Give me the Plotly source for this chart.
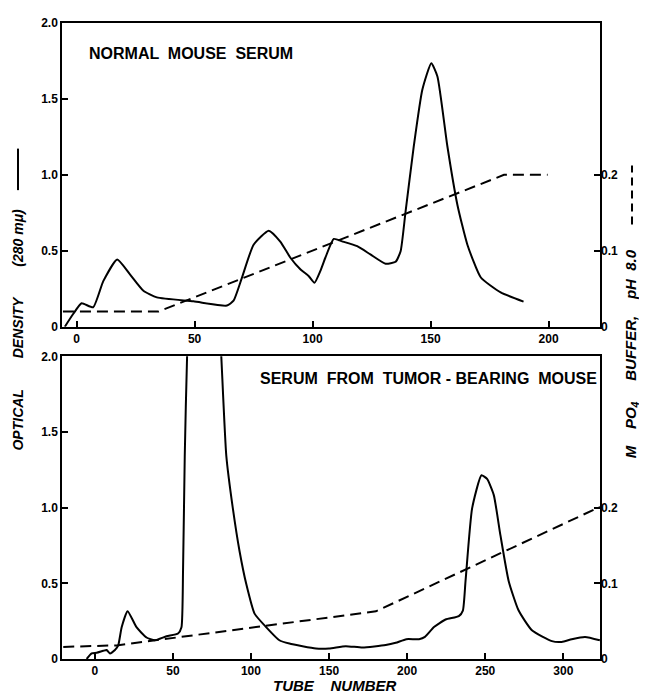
import plotly.graph_objects as go

# ---- Data ----
top_tube = [-5, -1.4, 2.1, 7, 11.3, 17.2, 22.6, 28.3, 34, 49.5, 63.7, 66.5, 70, 75, 81.4, 86.3,
            90.6, 94.8, 98.3, 100.8, 103.3, 105.4, 109, 112.5, 118.9, 124.5, 130.9, 135.2, 137.3,
            139.4, 142.9, 146.5, 150.3, 152.9, 157.1, 161.4, 165.6, 171.3, 179.7, 189.4]
top_od = [0, 0.085, 0.154, 0.128, 0.30, 0.443, 0.345, 0.237, 0.193, 0.167, 0.139, 0.171, 0.32,
          0.54, 0.632, 0.56, 0.454, 0.378, 0.334, 0.289, 0.367, 0.454, 0.578, 0.562, 0.53, 0.476,
          0.415, 0.428, 0.497, 0.758, 1.19, 1.56, 1.735, 1.648, 1.19, 0.80, 0.54, 0.324, 0.226, 0.165]
top_buf_tube = [-5.8, 34.7, 181.1, 199.6]
top_buf = [0.02, 0.02, 0.2, 0.2]

bot_tube = [-5.2, -2, 1.2, 5.4, 7.6, 9.7, 12.9, 15, 17.2, 21, 26.7, 33.1, 38.4, 45.9, 53.3, 55.5,
            56.5, 57.6, 59.1, 62, 70, 78, 81, 84.2, 88.4, 92.7, 97, 102.3, 109.7, 118.2, 124.6,
            141.6, 150, 160.7, 171.4, 186.3, 192.7, 199.5, 207.6, 211.4, 217.2, 224.6, 233.1,
            235.7, 237.4, 241.6, 247.6, 251.2, 255.5, 259.7, 265, 271.4, 279.9, 292.7, 299, 305.4,
            313.9, 323.4]
bot_od = [0, 0.037, 0.041, 0.054, 0.059, 0.037, 0.059, 0.09, 0.21, 0.316, 0.21, 0.142, 0.124,
          0.15, 0.168, 0.21, 0.58, 1.34, 2.0, 2.6, 3.2, 2.6, 2.0, 1.344, 0.995, 0.712, 0.495, 0.3,
          0.211, 0.124, 0.102, 0.07, 0.07, 0.085, 0.076, 0.092, 0.107, 0.131, 0.131, 0.146, 0.211,
          0.261, 0.283, 0.32, 0.516, 0.995, 1.214, 1.19, 1.083, 0.82, 0.516, 0.32, 0.19, 0.118,
          0.113, 0.131, 0.146, 0.124]
bot_buf_tube = [-20.2, 14, 180, 323.4]
bot_buf = [0.016, 0.018, 0.063, 0.201]

od_ticks = [0, 0.5, 1.0, 1.5, 2.0]
od_ticktext = ["0", "0.5", "1.0", "1.5", "2.0"]
buf_ticks = [0, 0.1, 0.2]
buf_ticktext = ["0", "0.1", "0.2"]
top_xticks = [0, 50, 100, 150, 200]
bot_xticks = [0, 50, 100, 150, 200, 250, 300]

FONT = "Liberation Sans"
tickfont = dict(family=FONT, size=12, color="black", weight="bold")
solid = dict(color="black", width=2, shape="spline", smoothing=0.5)
dashed = dict(color="black", width=2, dash="11px,6px")

fig = go.Figure()
fig.add_trace(go.Scatter(x=top_tube, y=top_od, mode="lines", line=solid, xaxis="x", yaxis="y"))
fig.add_trace(go.Scatter(x=top_buf_tube, y=top_buf, mode="lines", line=dashed, xaxis="x", yaxis="y2"))
fig.add_trace(go.Scatter(x=bot_tube, y=bot_od, mode="lines", line=solid, xaxis="x2", yaxis="y3"))
fig.add_trace(go.Scatter(x=bot_buf_tube, y=bot_buf, mode="lines", line=dashed, xaxis="x2", yaxis="y4"))

axcommon = dict(showline=True, linecolor="black", linewidth=1.5, mirror=True, ticks="inside",
                ticklen=6, tickwidth=1.5, tickcolor="black", showgrid=False, zeroline=False,
                tickfont=tickfont)
rightcommon = dict(showline=False, ticks="inside", ticklen=6, tickwidth=1.5, tickcolor="black",
                   showgrid=False, zeroline=False, tickfont=tickfont, side="right")

# page body has an 8px margin: figure spans window x 8..647, y 8..696
fig.update_layout(
    width=639, height=688,
    margin=dict(l=54, r=47, t=8, b=37),
    paper_bgcolor="white", plot_bgcolor="white",
    showlegend=False,
    xaxis=dict(axcommon, range=[-6.2, 221.8], domain=[0, 1], anchor="y",
               tickvals=top_xticks, ticktext=[str(v) for v in top_xticks]),
    yaxis=dict(axcommon, range=[0, 2.0], domain=[0.5225, 1], anchor="x",
               tickvals=od_ticks, ticktext=od_ticktext),
    yaxis2=dict(rightcommon, range=[0, 0.4], overlaying="y", anchor="x",
                tickvals=buf_ticks, ticktext=buf_ticktext),
    xaxis2=dict(axcommon, range=[-21, 323.5], domain=[0, 1], anchor="y3",
                tickvals=bot_xticks, ticktext=[str(v) for v in bot_xticks]),
    yaxis3=dict(axcommon, range=[0, 2.0], domain=[0, 0.4759], anchor="x2",
                tickvals=od_ticks, ticktext=od_ticktext),
    yaxis4=dict(rightcommon, range=[0, 0.4], overlaying="y3", anchor="x2",
                tickvals=buf_ticks, ticktext=buf_ticktext),
)

titlefont = dict(family=FONT, size=16, color="black", weight="bold")
axtitlefont = dict(family=FONT, size=14, color="black", weight="bold", style="italic")
fig.add_annotation(text="NORMAL  MOUSE  SERUM", xref="paper", yref="paper", x=0.0465, y=0.952,
                   xanchor="left", yanchor="middle", showarrow=False, font=titlefont)
fig.add_annotation(text="SERUM  FROM  TUMOR - BEARING  MOUSE", xref="paper", yref="paper",
                   x=0.3643, y=0.441, xanchor="left", yanchor="middle", showarrow=False, font=titlefont)
fig.add_annotation(text="TUBE    NUMBER", xref="paper", yref="paper", x=0.507, y=-0.042,
                   xanchor="center", yanchor="middle", showarrow=False,
                   font=dict(axtitlefont, size=15))
fig.add_annotation(text="OPTICAL        DENSITY        (280 mμ)", xref="paper", yref="paper",
                   x=-0.0818, y=0.518, xanchor="center", yanchor="middle", textangle=-90,
                   showarrow=False, font=axtitlefont)
fig.add_annotation(text="M    PO<sub>4</sub>     BUFFER,    pH  8.0", xref="paper", yref="paper",
                   x=1.0575, y=0.4806, xanchor="center", yanchor="middle", textangle=-90,
                   showarrow=False, font=dict(axtitlefont, size=15))
# legend keys beside the axis titles (solid = optical density, dashed = buffer)
fig.add_shape(type="line", xref="paper", yref="paper", x0=-0.0818, x1=-0.0818, y0=0.7372, y1=0.8025,
              line=dict(color="black", width=2))
fig.add_shape(type="line", xref="paper", yref="paper", x0=1.0595, x1=1.0595, y0=0.683, y1=0.776,
              line=dict(color="black", width=2, dash="8px,5px"))

fig.write_html("out.html")
